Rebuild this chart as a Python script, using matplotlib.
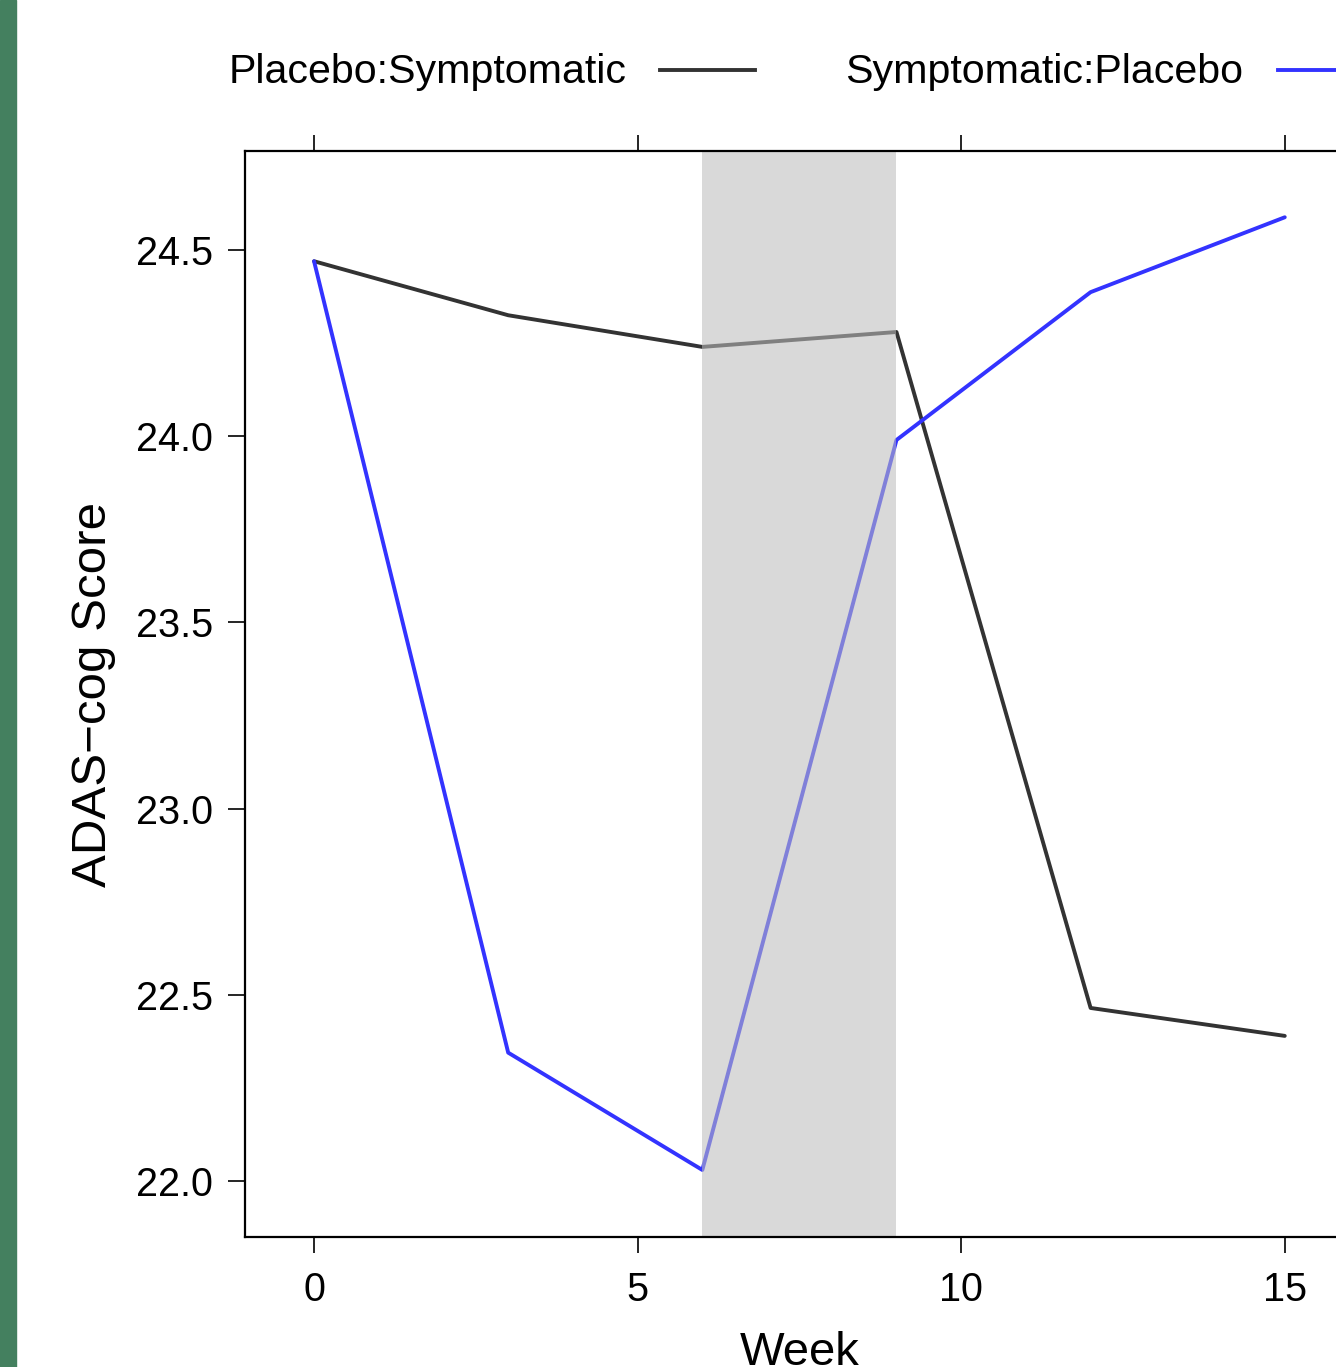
import matplotlib
matplotlib.use("Agg")
import matplotlib.pyplot as plt
from matplotlib.lines import Line2D
from matplotlib.patches import Rectangle

weeks = [0, 3, 6, 9, 12, 15]
placebo_symptomatic = [24.47, 24.325, 24.24, 24.28, 22.465, 22.39]
symptomatic_placebo = [24.47, 22.345, 22.03, 23.99, 24.387, 24.588]
series_names = ["Placebo:Symptomatic", "Symptomatic:Placebo"]
series_colors = ["#333333", "#3333FF"]
x_ticks = [0, 5, 10, 15]
y_ticks = [22.0, 22.5, 23.0, 23.5, 24.0, 24.5]
shade_span = (6, 9)

plt.rcParams['font.family'] = ['Liberation Sans', 'DejaVu Sans']

W, H = 1336, 1367
fig = plt.figure(figsize=(W / 100, H / 100), dpi=100)

def fx(px):
    return px / W

def fy(py):
    return 1 - py / H

# green strip on the left
fig.patches.append(Rectangle((0, 0), fx(16), 1, transform=fig.transFigure,
                             color="#44805F", zorder=0))

left, right, top, bottom = 245, 1354, 151, 1237
ax = fig.add_axes([fx(left), fy(bottom), fx(right - left), (bottom - top) / H])
ax.set_xlim(-1.067, 16.07)
ax.set_ylim(21.850, 24.766)

LW = 2.8
for vals, col in zip([placebo_symptomatic, symptomatic_placebo], series_colors):
    ax.plot(weeks, vals, color=col, lw=LW, solid_capstyle='round',
            solid_joinstyle='round', zorder=2)

ax.axvspan(shade_span[0], shade_span[1], color=(188/255, 188/255, 188/255),
           alpha=0.564, lw=0, zorder=3)

for s in ax.spines.values():
    s.set_linewidth(1.6)
    s.set_zorder(4)

ax.set_xticks(x_ticks)
ax.set_xticklabels([str(t) for t in x_ticks])
ax.set_yticks(y_ticks)
ax.set_yticklabels([f"{t:.1f}" for t in y_ticks])
ax.tick_params(axis='x', which='both', direction='out', length=11.5, width=1.2,
               top=True, bottom=True, labeltop=False, labelsize=28.5, pad=13)
ax.tick_params(axis='y', which='both', direction='out', length=12, width=1.2,
               left=True, right=False, labelsize=28.5, pad=11)

ax.set_xlabel("Week", fontsize=34, labelpad=16)
ax.set_ylabel("ADAS\u2212cog Score", fontsize=35.5, labelpad=14)

# legend on top
ly = 72
fig.text(fx(229), fy(ly), series_names[0], fontsize=29.6, ha='left', va='center')
fig.add_artist(Line2D([fx(660), fx(755)], [fy(70), fy(70)], color=series_colors[0],
                      lw=LW, transform=fig.transFigure))
fig.text(fx(845), fy(ly), series_names[1], fontsize=29.6, ha='left', va='center')
fig.add_artist(Line2D([fx(1278), fx(1373)], [fy(70), fy(70)], color=series_colors[1],
                      lw=LW, transform=fig.transFigure))

fig.savefig("out.png", dpi=100)
